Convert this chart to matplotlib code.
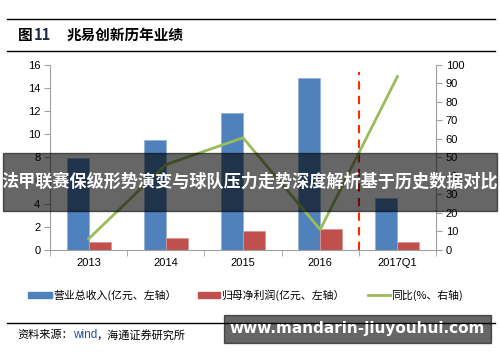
import numpy as np
import matplotlib.pyplot as plt
from matplotlib.patches import Rectangle
from matplotlib.lines import Line2D

plt.rcParams['font.family'] = ['Liberation Sans', 'Noto Sans CJK SC', 'DejaVu Sans']
cjk = ['Noto Sans CJK SC', 'DejaVu Sans']

# data
periods = ['2013', '2014', '2015', '2016', '2017Q1']
revenue = [7.9, 9.45, 11.8, 14.85, 4.45]      # 营业总收入 (亿元)
profit = [0.67, 1.0, 1.6, 1.8, 0.7]           # 归母净利润 (亿元)
yoy = [6, 46, 60.5, 11, 93.5]                 # 同比 (%)

blue = '#4F81BD'
red = '#C0504D'
green = '#9BBB59'

fig = plt.figure(figsize=(5, 3.62), dpi=100)
ax = fig.add_axes([0.1, 0.3094, 0.772, 0.5124])
ax2 = ax.twinx()

x = np.arange(len(periods))
w = 0.285
ax.bar(x - w/2, revenue, w, color=blue, edgecolor='#95B3D7', linewidth=0.6, zorder=2)
ax.bar(x + w/2, profit, w, color=red, edgecolor='#D99694', linewidth=0.6, zorder=2)
ax2.plot(x, yoy, color=green, lw=2, zorder=3)
ax2.axvline(3.5, ymin=0, ymax=0.96, color='#FF2A00', lw=1.5, ls=(0, (4, 3)))

ax.set_xlim(-0.5, 4.5)
ax.set_ylim(0, 16)
ax.set_yticks(range(0, 17, 2))
ax2.set_ylim(0, 100)
ax2.set_yticks(range(0, 101, 10))
ax.set_xticks(x)
ax.set_xticklabels(periods)
ax.set_xticks(np.arange(-0.5, 5, 1), minor=True)
ax.tick_params(axis='x', which='major', length=0, pad=6, labelsize=8)
ax.tick_params(axis='x', which='minor', length=4, color='#A0A0A0')
ax.tick_params(axis='y', length=4, color='#A0A0A0', labelsize=8, pad=3)
ax2.tick_params(axis='y', length=4, color='#A0A0A0', labelsize=8, pad=3)

for a in (ax, ax2):
    a.spines['top'].set_visible(False)
    for s in ('left', 'right', 'bottom'):
        a.spines[s].set_color('#A0A0A0')
ax.spines['right'].set_visible(False)
ax2.spines['left'].set_visible(False)
ax2.spines['bottom'].set_visible(False)

# title block
fig.add_artist(Line2D([0.014, 0.99], [1 - 19/362, 1 - 19/362], color='black', lw=1))
fig.add_artist(Line2D([0.014, 0.99], [1 - 51/362, 1 - 51/362], color='black', lw=1))
fig.text(0.036, 1 - 35/362, '图', family=cjk, fontsize=10.5, fontweight='bold', va='center')
fig.text(0.068, 1 - 35/362, '11', family=cjk, fontsize=10.5, fontweight='bold', color='#1F2A44', va='center')
fig.text(0.134, 1 - 35/362, '兆易创新历年业绩', family=cjk, fontsize=10.5, fontweight='bold', va='center')

# legend
ly = 1 - 295/362
fig.add_artist(Rectangle((28/500, ly - 3/362), 24/500, 6/362, color=blue))
fig.text(53/500, ly, '营业总收入(亿元、左轴）', family=cjk, fontsize=7.8, va='center')
fig.add_artist(Rectangle((198/500, ly - 3/362), 22/500, 6/362, color=red))
fig.text(221/500, ly, '归母净利润(亿元、左轴）', family=cjk, fontsize=7.8, va='center')
fig.add_artist(Line2D([368/500, 390/500], [ly, ly], color=green, lw=2))
fig.text(391/500, ly, '同比(%、右轴)', family=cjk, fontsize=7.8, va='center')

# source
fig.add_artist(Line2D([0.014, 0.99], [1 - 323/362, 1 - 323/362], color='black', lw=1))
fig.text(17/500, 1 - 335/362, '资料来源：', family=cjk, fontsize=8, va='center')
fig.text(73/500, 1 - 335/362, 'wind', fontsize=8.5, color='#1F4E9C', va='center')
fig.text(97/500, 1 - 335/362, '，海通证券研究所', family=cjk, fontsize=8, va='center')

# overlay banner
fig.add_artist(Rectangle((3/500, 1 - 211/362), 494/500, 58/362, color='black', alpha=0.6, zorder=10))
fig.text(0.5, 1 - 182/362, '法甲联赛保级形势演变与球队压力走势深度解析基于历史数据对比',
         family=cjk, fontsize=12.3, fontweight='bold', color='white', ha='center', va='center', zorder=11)

# watermark box
fig.add_artist(Rectangle((224/500, 1 - 343/362), 267/500, 28/362, color='black', alpha=0.6, zorder=10))
fig.text(357/500, 1 - 329/362, 'www.mandarin-jiuyouhui.com', family=['DejaVu Sans'],
         fontsize=11, fontweight='bold', color='white', ha='center', va='center', zorder=11)

fig.savefig('out.png', dpi=100)
